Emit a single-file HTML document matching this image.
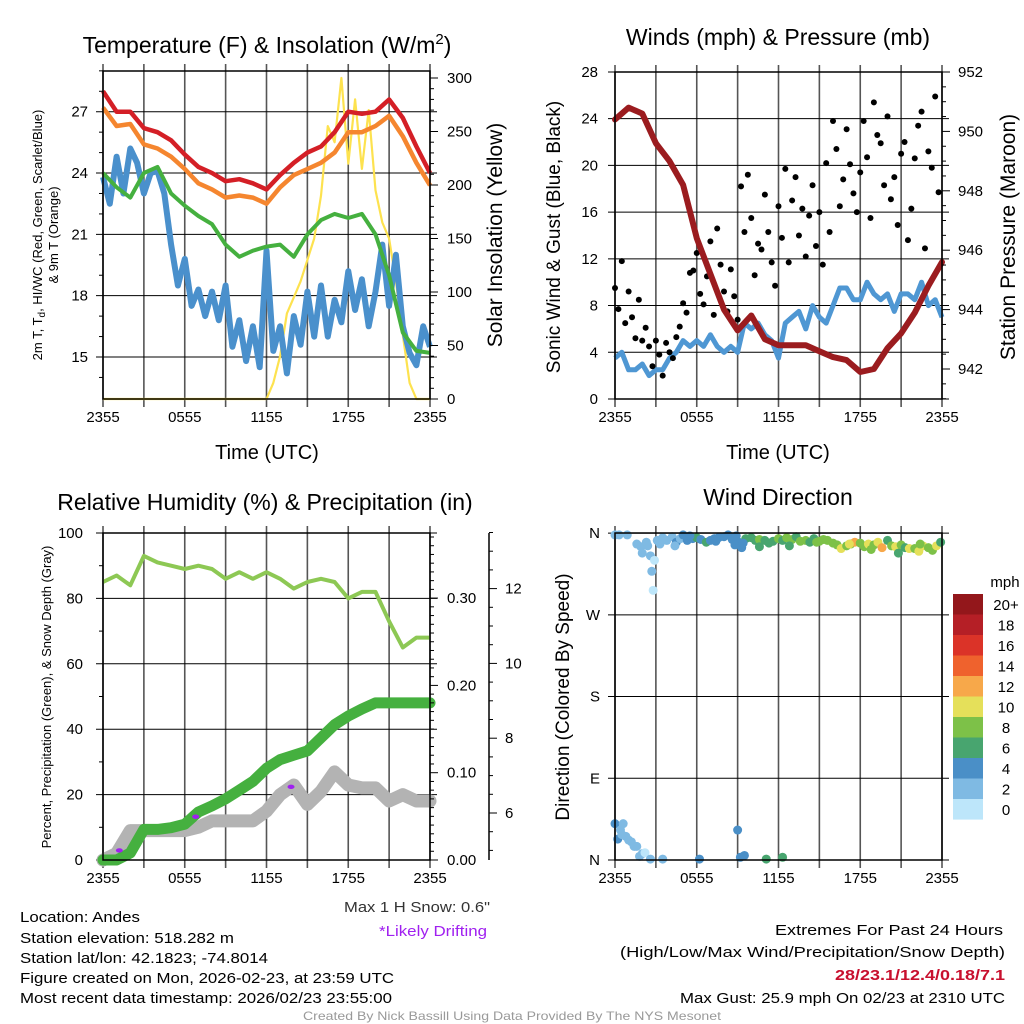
<!DOCTYPE html>
<html><head><meta charset="utf-8"><style>
html,body{margin:0;padding:0;background:#fff;}
svg{display:block;font-family:"Liberation Sans",sans-serif;}
</style></head><body>
<svg id="chart" width="1024" height="1024" viewBox="0 0 1024 1024" xmlns="http://www.w3.org/2000/svg">
<rect width="1024" height="1024" fill="#fff"/>
<g id="grids"></g>
<g id="marks"></g>
<g id="frames"></g>
<g id="labels" font-size="15" fill="#000">
<text x="267" y="53" font-size="23" text-anchor="middle">Temperature (F) &amp; Insolation (W/m<tspan dy="-9" font-size="15">2</tspan><tspan dy="9">)</tspan></text>
<text x="778" y="45" font-size="23" text-anchor="middle">Winds (mph) &amp; Pressure (mb)</text>
<text x="265" y="510" font-size="23" text-anchor="middle">Relative Humidity (%) &amp; Precipitation (in)</text>
<text x="778" y="505" font-size="23" text-anchor="middle">Wind Direction</text>
<text x="267" y="459" font-size="20" text-anchor="middle">Time (UTC)</text>
<text x="778" y="459" font-size="20" text-anchor="middle">Time (UTC)</text>
<text transform="translate(42,235) rotate(-90)" font-size="13" text-anchor="middle">2m T, T<tspan dy="3" font-size="10">d</tspan><tspan dy="-3">, HI/WC (Red, Green, Scarlet/Blue)</tspan></text>
<text transform="translate(58,235) rotate(-90)" font-size="13" text-anchor="middle">&amp; 9m T (Orange)</text>
<text transform="translate(502,235) rotate(-90)" font-size="21" text-anchor="middle">Solar Insolation (Yellow)</text>
<text transform="translate(560,237) rotate(-90)" font-size="19" text-anchor="middle">Sonic Wind &amp; Gust (Blue, Black)</text>
<text transform="translate(1015,237) rotate(-90)" font-size="21" text-anchor="middle">Station Pressure (Maroon)</text>
<text transform="translate(51,697) rotate(-90)" font-size="13" text-anchor="middle">Percent, Precipitation (Green), &amp; Snow Depth (Gray)</text>
<text transform="translate(569,697) rotate(-90)" font-size="19" text-anchor="middle">Direction (Colored By Speed)</text>
<text x="20" y="922" textLength="120" lengthAdjust="spacingAndGlyphs">Location: Andes</text>
<text x="20" y="943" textLength="214" lengthAdjust="spacingAndGlyphs">Station elevation: 518.282 m</text>
<text x="20" y="963" textLength="248" lengthAdjust="spacingAndGlyphs">Station lat/lon: 42.1823; -74.8014</text>
<text x="20" y="983" textLength="374" lengthAdjust="spacingAndGlyphs">Figure created on Mon, 2026-02-23, at 23:59 UTC</text>
<text x="20" y="1003" textLength="372" lengthAdjust="spacingAndGlyphs">Most recent data timestamp: 2026/02/23 23:55:00</text>
<text x="344" y="912" textLength="146" lengthAdjust="spacingAndGlyphs" fill="#333">Max 1 H Snow: 0.6"</text>
<text x="379" y="936" textLength="108" lengthAdjust="spacingAndGlyphs" fill="#a020f0">*Likely Drifting</text>
<text x="775" y="935" textLength="228" lengthAdjust="spacingAndGlyphs">Extremes For Past 24 Hours</text>
<text x="620" y="957" textLength="385" lengthAdjust="spacingAndGlyphs">(High/Low/Max Wind/Precipitation/Snow Depth)</text>
<text x="835" y="980" textLength="170" lengthAdjust="spacingAndGlyphs" fill="#c8102e" font-weight="bold">28/23.1/12.4/0.18/7.1</text>
<text x="680" y="1003" textLength="325" lengthAdjust="spacingAndGlyphs">Max Gust: 25.9 mph On 02/23 at 2310 UTC</text>
<text x="303" y="1020" textLength="418" lengthAdjust="spacingAndGlyphs" font-size="12" fill="#999">Created By Nick Bassill Using Data Provided By The NYS Mesonet</text>
<text x="1005" y="587" font-size="15" text-anchor="middle">mph</text>
</g>
</svg>
<script>
// ---------- data ----------
const hours = [0,1,2,3,4,5,6,7,8,9,10,11,12,13,14,15,16,17,18,19,20,21,22,23,24];
const tempRed = [28.0,27.0,27.0,26.2,26.0,25.6,24.9,24.3,24.0,23.6,23.7,23.5,23.2,23.9,24.5,25.0,25.3,26.0,27.0,26.9,27.0,27.6,26.7,25.3,24.0];
const temp9m = [27.2,26.3,26.4,25.4,25.2,24.8,24.2,23.5,23.2,22.8,22.9,22.8,22.5,23.3,23.9,24.2,24.5,25.0,26.0,26.0,26.3,26.8,25.8,24.5,23.4];
const windChill = [24.0,23.3,22.8,24.0,24.3,23.0,22.4,21.9,21.5,20.5,19.9,20.2,20.4,20.5,19.9,21.0,21.7,22.0,21.8,22.0,21.0,19.0,16.2,15.3,15.2];
const halfHours = [0,0.5,1,1.5,2,2.5,3,3.5,4,4.5,5,5.5,6,6.5,7,7.5,8,8.5,9,9.5,10,10.5,11,11.5,12,12.5,13,13.5,14,14.5,15,15.5,16,16.5,17,17.5,18,18.5,19,19.5,20,20.5,21,21.5,22,22.5,23,23.5,24];
const dewpoint = [23.8,22.5,24.8,23.0,25.2,24.5,23.0,24.0,24.1,23.0,20.5,18.5,19.8,17.5,18.3,17.0,18.2,16.8,18.5,15.5,16.8,14.8,16.5,14.5,20.2,15.3,16.5,14.2,17.0,15.6,18.2,16.0,18.5,16.0,17.8,16.7,19.2,17.3,18.8,16.5,18.2,20.5,17.5,20.0,16.5,15.2,14.6,16.5,15.5];
const solar = [0,0,0,0,0,0,0,0,0,0,0,0,0,0,0,0,0,0,0,0,0,0,0,0,0,15,40,80,95,110,130,150,190,255,240,300,220,280,215,270,195,165,150,110,60,15,0,0,0];
const pressure = [950.4,950.8,950.6,949.6,949.0,948.2,946.4,945.2,944.0,943.3,943.8,943.0,942.8,942.8,942.8,942.6,942.4,942.3,941.9,942.0,942.7,943.2,943.9,944.8,945.6];
const windSpeed = [3.5,4,2.5,2.5,3,2,2.5,2.5,3.5,4,5,4.5,5,4.5,5.5,4.5,4,4.5,4,6.5,6,6.5,5.5,5,3.5,6.5,7,7.5,6,8,7,6.5,8,9.5,9.5,8.5,8.5,10,9,8.5,9,7.5,9,9,8.5,10,8,8.5,7];
const gusts = [9.5,7.7,11.8,6.5,9.2,7.0,5.2,8.5,5.0,6.1,4.5,2.8,5.0,3.8,2.0,4.8,4.0,3.5,5.3,6.2,8.2,7.4,10.8,11.0,12.5,9.0,8.1,10.5,13.5,7.2,14.6,11.5,9.2,7.5,11.1,8.8,6.8,18.2,14.3,19.2,15.5,10.6,13.3,12.8,17.5,14.3,11.7,9.7,16.5,13.8,19.7,11.7,17.0,19.0,14.0,16.3,12.2,15.7,18.3,13.1,16.0,11.5,20.2,14.3,23.8,21.4,16.5,18.8,23.1,20.1,17.6,16.0,19.4,23.8,20.7,15.5,25.4,22.6,21.9,18.3,24.2,17.1,19.0,14.9,21.0,22.0,13.6,16.3,20.6,23.4,24.6,12.9,21.2,19.8,25.9,17.7];
const rh = [85,87,84,93,91,90,89,90,89,86,88,86,88,86,83,85,86,85,80,82,82,73,65,68,68];
const precip = [0,0,0.008,0.035,0.035,0.037,0.041,0.055,0.062,0.07,0.08,0.09,0.105,0.115,0.12,0.125,0.14,0.155,0.165,0.173,0.18,0.18,0.18,0.18,0.18];
const snowDepth = [4.74,4.92,5.53,5.53,5.53,5.53,5.53,5.62,5.79,5.79,5.79,5.79,6.05,6.49,6.75,6.23,6.58,7.10,6.75,6.67,6.67,6.32,6.49,6.32,6.32];
const driftHours = [1.2,6.8,13.8];
const driftSnow = [5.0,5.9,6.7];
const dirHours = [
0,0.3,0.9,1.6,1.9,2.0,2.3,2.4,2.6,2.7,
2.8,2.9,3.1,3.3,3.5,3.8,4.2,4.5,4.8,5.0,
5.3,5.7,6.0,6.3,6.7,7.0,7.3,7.6,8.0,8.3,
8.6,8.9,9.1,9.3,9.6,10.0,10.3,10.6,11.0,11.3,
11.6,12.0,12.3,12.6,13.0,13.3,13.6,14.0,14.3,14.6,
15.0,15.3,15.6,16.0,16.3,16.6,17.0,17.3,17.6,18.0,
18.3,18.6,19.0,19.3,19.6,20.0,20.3,20.6,21.0,21.3,
21.6,22.0,22.3,22.6,23.0,23.3,23.6,23.9,
3.4,4.4,5.5,7.4,8.8,9.4,10.6,12.8,14.8,17.2,18.8,20.8,22.4,
0,0.2,0.4,0.5,0.6,0.8,1.0,1.2,1.4,1.6,1.8,2.0,2.2,2.6,3.5,
6.2,9.0,9.2,9.5,11.1,12.3];
const dirDeg = [
358,358,358,348,345,338,350,346,335,318,
297,330,352,348,355,352,356,350,354,358,
352,354,355,353,350,352,354,355,356,358,
353,357,350,344,354,355,352,353,352,349,
351,354,352,355,353,356,351,352,350,354,
351,353,352,349,347,343,346,348,350,349,
345,348,347,350,344,352,346,345,347,344,
343,343,340,346,344,341,346,350,
352,346,357,351,347,349,345,346,350,348,342,338,348,
40,23,33,28,40,26,22,20,15,15,4,7,8,1,1,
1,33,3,5,1,3];
const dirSpeed = [
2.5,2.5,2.5,3,2.5,3,2.5,3,3,2,
1,1,3,2.5,3,3,2.5,4.5,3,4.5,
5,4.5,6,5,6,5,4.5,5,4.5,5,
4.5,4.5,5,4.5,6.5,7,6,8,7,6.5,
7.5,8.5,7,9,8,7.5,9,8,6.5,7.5,
9.5,8,9.5,9,8,10.5,9,8,12.5,9.5,
8,11,8.5,10,12.5,7,9.5,11,8,6.5,
10,8.5,10.5,10,9,8,10,7,
3,3.5,5,5,5,4.5,7,7,9,10,8,7,9,
4.5,4.5,3,3.5,3,3.5,3,3,2.5,3,3,3,1,2.5,2.5,
4.5,4.5,4.5,4.5,6.5,6.5];
const cbLabels = ["20+","18","16","14","12","10","8","6","4","2","0"];
const cbColors = ["#93171b","#b51f26","#db3328","#ef622d","#f7a84a","#e5e05a","#7dc148","#48a56f","#4a8fc7","#7fbae3","#bde6fa"];

// ---------- helpers ----------
const NS = "http://www.w3.org/2000/svg";
const G = document.getElementById("grids"), M = document.getElementById("marks"), F = document.getElementById("frames"), L = document.getElementById("labels");
function mk(parent, tag, attrs){ const e = document.createElementNS(NS, tag); for (const k in attrs) e.setAttribute(k, attrs[k]); parent.appendChild(e); return e; }
const X0L = 103, X1L = 430, X0R = 615, X1R = 942;
const xL = h => X0L + h * (X1L - X0L) / 24;
const xR = h => X0R + h * (X1R - X0R) / 24;
const yTemp = t => 357 - (t - 15) * 20.44;
const ySolar = s => 399 - s * 1.07;
const yWind = w => 399 - w * 11.68;
const yPres = p => 369 - (p - 942) * 29.7;
const yPct = p => 860 - p * 3.27;
const yPrecip = v => 860 - v * 873;
const ySnow = v => 813 - (v - 6) * 37.4;
const yDir = d => 860 - d * 0.908;
function pathFrom(xs, ys, xf, yf){ return xs.map((h,i)=>(i?"L":"M")+xf(h).toFixed(1)+","+yf(ys[i]).toFixed(1)).join(""); }
function colorFor(s){ const idx = Math.max(0, Math.min(10, Math.floor(s/2))); return cbColors[10-idx]; }
const xTickLabels = ["2355","0555","1155","1755","2355"];

// ---------- panel frames / grids ----------
const panels = [
 {x0:X0L,x1:X1L,top:71,bot:399,name:"temperature"},
 {x0:X0R,x1:X1R,top:72,bot:399,name:"winds"},
 {x0:X0L,x1:X1L,top:533,bot:860,name:"humidity"},
 {x0:X0R,x1:X1R,top:533,bot:860,name:"direction"}];
panels.forEach(p=>{
  for (let k=0;k<=8;k++){
    const x = p.x0 + k*(p.x1-p.x0)/8;
    const vl = mk(G,"line",{x1:x,x2:x,y1:p.top-7,y2:p.bot+8,stroke:"#555","stroke-width":1.6});
    
    
  }
  for (let k=0;k<5;k++){
    const tl = mk(L,"text",{x:p.x0+k*(p.x1-p.x0)/4,y:p.bot+23,"text-anchor":"middle","font-size":15});
    tl.textContent = xTickLabels[k];
    
    
  }
  const fr = mk(F,"rect",{x:p.x0,y:p.top,width:p.x1-p.x0,height:p.bot-p.top,fill:"none",stroke:"#000","stroke-width":1.5});
  
  
});
function hGrid(x0,x1,y,label,lx,anchor){
  const gl = mk(G,"line",{x1:x0-7,x2:x1+7,y1:y,y2:y,stroke:"#000","stroke-width":1});
  
  
  if (label!==null){
    const t = mk(L,"text",{x:lx,y:y+5,"text-anchor":anchor,"font-size":15});
    t.textContent = label;
    
    
  }
}
function rTick(x,y,len,label,lx){
  const tk = mk(F,"line",{x1:x,x2:x+len,y1:y,y2:y,stroke:"#000","stroke-width":1});
  
  
  if (label!==null){
    const t = mk(L,"text",{x:lx,y:y+5,"font-size":15});
    t.textContent = label;
    
    
  }
}
// panel 1 axes
[15,18,21,24,27].forEach(v=>hGrid(X0L,X1L,yTemp(v),String(v),88,"end"));
for (let v=14; v<=29; v++) if (v%3) { const mt = mk(F,"line",{x1:X0L-4,x2:X0L,y1:yTemp(v),y2:yTemp(v),stroke:"#000"});   }
for (let v=0; v<=300; v+=10) rTick(X1L, ySolar(v), v%50?4:8, v%50?null:String(v), 447);
// panel 2 axes
[0,4,8,12,16,20,24,28].forEach(v=>hGrid(X0R,X1R,yWind(v),String(v),598,"end"));
for (let v=941; v<=952; v+=0.5) rTick(X1R, yPres(v), (v%2)?4:8, (v%2)?null:String(v), 958);
// panel 3 axes
[0,20,40,60,80,100].forEach(v=>hGrid(X0L,X1L,yPct(v),String(v),83,"end"));
for (let v=10; v<100; v+=20){ const mt = mk(F,"line",{x1:X0L-4,x2:X0L,y1:yPct(v),y2:yPct(v),stroke:"#000"});   }
for (let k=0; k<=37; k++){ const v=k*0.01; rTick(X1L, yPrecip(v), k%10?4:8, k%10?null:v.toFixed(2), 447); }
const snowAxis = mk(F,"line",{x1:489,x2:489,y1:533,y2:860,stroke:"#000","stroke-width":1.5});


for (let v=5; v<=13.5; v+=0.5){ const lab = (v%2===0)?String(v):null; rTick(489, ySnow(v), lab?8:4, lab, 505); }
// panel 4 axes
[["N",360],["W",270],["S",180],["E",90],["N",0]].forEach(a=>hGrid(X0R,X1R,yDir(a[1]),a[0],600,"end"));

// ---------- panel 1 marks ----------
const solarLine = mk(M,"path",{d:pathFrom(halfHours,solar,xL,ySolar),fill:"none",stroke:"#fde24f","stroke-width":2.2,"stroke-linejoin":"round"});


const dewLine = mk(M,"path",{d:pathFrom(halfHours,dewpoint,xL,yTemp),fill:"none",stroke:"#4a90cc","stroke-width":6,"stroke-linejoin":"round"});


const wcLine = mk(M,"path",{d:pathFrom(hours,windChill,xL,yTemp),fill:"none",stroke:"#45b03f","stroke-width":4,"stroke-linejoin":"round"});


const t9Line = mk(M,"path",{d:pathFrom(hours,temp9m,xL,yTemp),fill:"none",stroke:"#f5862f","stroke-width":4.5,"stroke-linejoin":"round"});


const tLine = mk(M,"path",{d:pathFrom(hours,tempRed,xL,yTemp),fill:"none",stroke:"#d41f26","stroke-width":4.5,"stroke-linejoin":"round"});



// ---------- panel 2 marks ----------
const wLine = mk(M,"path",{d:pathFrom(halfHours,windSpeed,xR,yWind),fill:"none",stroke:"#4f97d3","stroke-width":5,"stroke-linejoin":"round"});


gusts.forEach((g,i)=>{
  const c = mk(M,"circle",{cx:xR(i*0.25),cy:yWind(g),r:3,fill:"#000"});
  
  
});
const pLine = mk(M,"path",{d:pathFrom(hours,pressure,xR,yPres),fill:"none",stroke:"#9b1c1f","stroke-width":6,"stroke-linejoin":"round","stroke-linecap":"round"});



// ---------- panel 3 marks ----------
const rhLine = mk(M,"path",{d:pathFrom(hours,rh,xL,yPct),fill:"none",stroke:"#8dc854","stroke-width":4,"stroke-linejoin":"round"});


const snowLine = mk(M,"path",{d:pathFrom(hours,snowDepth,xL,ySnow),fill:"none",stroke:"#b3b3b3","stroke-width":13,"stroke-linejoin":"round","stroke-linecap":"round"});


const prLine = mk(M,"path",{d:pathFrom(hours,precip,xL,yPrecip),fill:"none",stroke:"#45b03f","stroke-width":11,"stroke-linejoin":"round","stroke-linecap":"round"});


driftHours.forEach((h,i)=>{
  const d = mk(M,"ellipse",{cx:xL(h),cy:ySnow(driftSnow[i]),rx:3.5,ry:2.2,fill:"#a020f0"});
  
  
});

// ---------- panel 4 marks ----------
dirHours.forEach((h,i)=>{
  const c = mk(M,"circle",{cx:xR(h),cy:yDir(dirDeg[i]),r:4.5,fill:colorFor(dirSpeed[i])});
  
  
});
cbColors.forEach((col,i)=>{
  const r = mk(F,"rect",{x:953,y:594+i*20.5,width:30,height:20.6,fill:col});
  
  
  const t = mk(L,"text",{x:1006,y:594+i*20.5+16,"text-anchor":"middle","font-size":15});
  t.textContent = cbLabels[i];
  
  
});
</script>
</body></html>
